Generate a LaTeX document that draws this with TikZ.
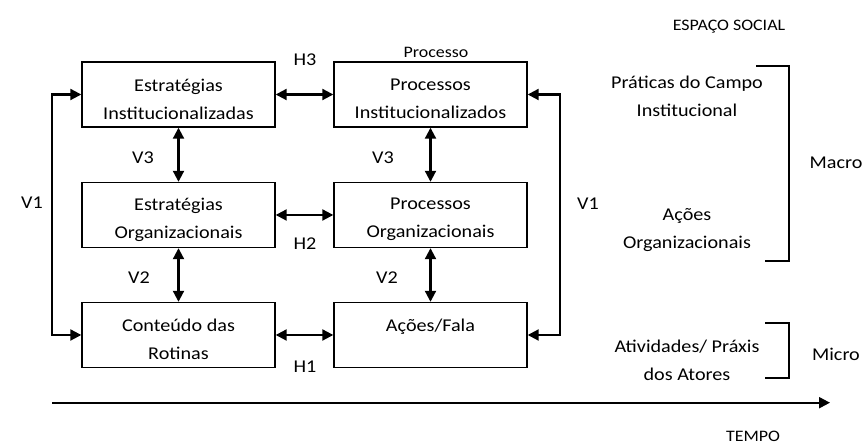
\documentclass[tikz,border=0pt]{standalone}
\usepackage{fontspec}
\setmainfont[FakeStretch=1.12]{Carlito}
\usetikzlibrary{arrows.meta}

\begin{document}
\begin{tikzpicture}[x=1pt,y=1pt,
  box/.style={draw, line width=1.4pt, rectangle, minimum width=193pt,
    minimum height=65pt, inner sep=0pt},
  lbl/.style={inner sep=0pt, font=\fontsize{18}{28}\selectfont, align=center},
  tbox/.style={box, label={[lbl,yshift=-4.5pt]center:{#1}}},
  small/.style={inner sep=0pt, font=\fontsize{16}{20}\selectfont},
  tip/.style={Triangle[length=11pt,width=11pt]},
  link/.style={line width=2.1pt, {Triangle[length=11pt,width=11pt]}-{Triangle[length=11pt,width=11pt]}},
  brace/.style={line width=1.4pt}
]
\useasboundingbox (0,0) rectangle (868,444);

% boxes of the two columns
\node[tbox={Estratégias\\Institucionalizadas}] (eI) at (178.5,349.5) {};
\node[tbox={Estratégias\\Organizacionais}] (eO) at (178.5,229) {};
\node[tbox={Conteúdo das\\Rotinas}] (cR) at (178.5,109) {};
\node[tbox={Processos\\Institucionalizados}] (pI) at (430.5,349.5) {};
\node[tbox={Processos\\Organizacionais}] (pO) at (430.5,229) {};
\node[tbox={Ações/Fala\\\mbox{}}] (aF) at (430.5,109) {};

% horizontal links
\draw[link] (eI.east) -- (pI.west);
\draw[link] (eO.east) -- (pO.west);
\draw[link] (cR.east) -- (aF.west);

% vertical links
\draw[link] (eI.south) -- (eO.north);
\draw[link] (eO.south) -- (cR.north);
\draw[link] (pI.south) -- (pO.north);
\draw[link] (pO.south) -- (aF.north);

% outer V1 loops
\coordinate (v1l) at (52,230);
\coordinate (v1r) at (560,230);
\draw[link] (eI.west) -| (v1l) |- (cR.west);
\draw[link] (pI.east) -| (v1r) |- (aF.east);

% link labels
\node[lbl] (h3) at (305,384) {H3};
\node[lbl] (h2) at (305,200) {H2};
\node[lbl] (h1) at (305,77) {H1};
\node[lbl] (v3a) at (143,286) {V3};
\node[lbl] (v3b) at (383,286) {V3};
\node[lbl] (v2a) at (139,166) {V2};
\node[lbl] (v2b) at (387,166) {V2};
\node[lbl] (v1a) at (32,241) {V1};
\node[lbl] (v1b) at (588,240) {V1};
\node[small] (proc) at (436,392) {Processo};

% social space levels
\node[small] (esp) at (729,417) {ESPAÇO SOCIAL};
\node[lbl] (prat) at (687,348) {Práticas do Campo\\Institucional};
\node[lbl] (acoes) at (687,213.5) {Ações\\Organizacionais};
\node[lbl] (ativ) at (687,84) {Atividades/ Práxis\\dos Atores};
\node[lbl] (macro) at (836,281) {Macro};
\node[lbl] (micro) at (836,90) {Micro};

\draw[brace] (756,378) -- (789,378) -- (789,183) -- (765,183);
\draw[brace] (765,121) -- (789,121) -- (789,66) -- (765,66);

% time axis
\coordinate (t0) at (52,41.3);
\coordinate (t1) at (830,41.3);
\draw[line width=2.1pt, -{Triangle[length=11pt,width=11pt]}] (t0) -- (t1);
\node[small] (tempo) at (753,8) {TEMPO};
\end{tikzpicture}
\end{document}
